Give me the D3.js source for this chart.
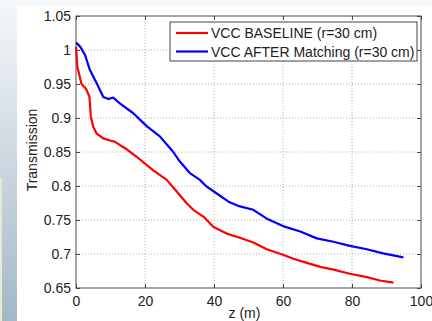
<!DOCTYPE html>
<html>
<head>
<meta charset="utf-8">
<script src="https://cdn.jsdelivr.net/npm/d3@7"></script>
<style>
  html, body { margin: 0; padding: 0; background: #fff; }
  svg { display: block; font-family: Arial, 'Liberation Sans', sans-serif; }
</style>
</head>
<body>
<div class="chart"></div>
<script>
// values
const zBaseline = [0, 0.4, 1.6, 2.9, 3.9, 4.3, 5, 6, 7.9, 9.9, 11.3, 12.8, 14.7, 17.6, 20, 22.4, 26.3, 29.2, 32, 34, 36.9, 39.8, 41.3, 43.7, 47.5, 51.4, 55.3, 60, 63, 66.9, 70.8, 74.6, 79.4, 84.3, 88.1, 92];
const tBaseline = [1.005, 0.975, 0.95, 0.943, 0.931, 0.902, 0.887, 0.877, 0.87, 0.867, 0.865, 0.86, 0.854, 0.843, 0.833, 0.823, 0.809, 0.792, 0.775, 0.765, 0.755, 0.74, 0.736, 0.73, 0.724, 0.717, 0.707, 0.699, 0.693, 0.687, 0.681, 0.677, 0.671, 0.666, 0.661, 0.658];
const zMatched = [0, 1.2, 2.6, 4, 6, 7.9, 9.4, 10.8, 12.8, 16.6, 20.5, 24.3, 28.2, 30.1, 33, 35.9, 37.9, 40.8, 44.2, 47.5, 51.4, 55.3, 60, 65, 69.8, 74.6, 79.4, 84.3, 89, 94.9];
const tMatched = [1.011, 1.005, 0.993, 0.971, 0.951, 0.931, 0.928, 0.93, 0.921, 0.907, 0.888, 0.873, 0.85, 0.836, 0.819, 0.809, 0.799, 0.789, 0.777, 0.77, 0.765, 0.752, 0.741, 0.733, 0.723, 0.718, 0.712, 0.707, 0.701, 0.695];
const xTicks = [0, 20, 40, 60, 80, 100];
const yTicks = [0.65, 0.7, 0.75, 0.8, 0.85, 0.9, 0.95, 1, 1.05];
const seriesNames = ['VCC BASELINE (r=30 cm)', 'VCC AFTER Matching (r=30 cm)'];
const seriesColors = ['#ff0000', '#0000ff'];

const svgWidth = 432;
const svgHeight = 321;
const margin = { top: 16, right: 11, bottom: 33, left: 76 };
const width = svgWidth - margin.left - margin.right;
const height = svgHeight - margin.top - margin.bottom;

const root = d3.select('.chart').append('svg')
  .attr('width', svgWidth)
  .attr('height', svgHeight);

// slide background: left gradient strip
const defs = root.append('defs');
const grad = defs.append('linearGradient').attr('id', 'strip').attr('x1', 0).attr('y1', 0).attr('x2', 0).attr('y2', 1);
grad.append('stop').attr('offset', '0%').attr('stop-color', '#f6f8fa');
grad.append('stop').attr('offset', '100%').attr('stop-color', '#a3b7c7');
root.append('rect').attr('x', 0).attr('y', 0).attr('width', svgWidth).attr('height', 6).attr('fill', '#f7f8f9');
root.append('rect').attr('x', 0).attr('y', 0).attr('width', 17).attr('height', svgHeight).attr('fill', 'url(#strip)');
root.append('rect').attr('x', 0).attr('y', 178).attr('width', 2).attr('height', svgHeight - 178).attr('fill', '#e6ead0');

const svg = root.append('g').attr('transform', 'translate(' + margin.left + ',' + margin.top + ')');

const x = d3.scaleLinear().domain([0, 100]).range([0, width]);
const y = d3.scaleLinear().domain([0.65, 1.05]).range([height, 0]);

// dotted grid
svg.append('g')
  .selectAll('line')
  .data(xTicks.slice(1, -1))
  .join('line')
  .attr('x1', (d) => x(d)).attr('x2', (d) => x(d))
  .attr('y1', 0).attr('y2', height)
  .attr('stroke', '#9a9a9a').attr('stroke-width', 0.8).attr('stroke-dasharray', '1,2');
svg.append('g')
  .selectAll('line')
  .data(yTicks.slice(1, -1))
  .join('line')
  .attr('x1', 0).attr('x2', width)
  .attr('y1', (d) => y(d)).attr('y2', (d) => y(d))
  .attr('stroke', '#9a9a9a').attr('stroke-width', 0.8).attr('stroke-dasharray', '1,2');

// axes, matlab style ticks pointing inward
const xAxis = (g) => g.attr('transform', `translate(0,${height})`)
  .call(d3.axisBottom(x).tickValues(xTicks).tickSize(-4).tickPadding(8).tickFormat(d3.format('d')));
const yAxis = (g) => g.call(d3.axisLeft(y).tickValues(yTicks).tickSize(-4).tickPadding(5).tickFormat((d) => String(+d.toFixed(2))));
const xTop = (g) => g.call(d3.axisTop(x).tickValues(xTicks).tickSize(-4).tickFormat(''));
const yRight = (g) => g.attr('transform', `translate(${width},0)`)
  .call(d3.axisRight(y).tickValues(yTicks).tickSize(-4).tickFormat(''));

[xAxis, yAxis, xTop, yRight].forEach((a) => {
  const g = svg.append('g').call(a);
  g.selectAll('path, line').attr('stroke', '#4a4a4a');
  g.selectAll('text').attr('fill', '#222').attr('font-size', 14).attr('font-family', 'Arial, Liberation Sans, sans-serif');
  g.select('.domain').remove();
});
svg.append('rect').attr('width', width).attr('height', height)
  .attr('fill', 'none').attr('stroke', '#4a4a4a').attr('stroke-width', 1);

// curves
const line = d3.line().x((d) => x(d[0])).y((d) => y(d[1]));
const series = [
  d3.zip(zBaseline, tBaseline),
  d3.zip(zMatched, tMatched)
];
svg.append('g')
  .selectAll('path')
  .data(series)
  .join('path')
  .attr('d', line)
  .attr('fill', 'none')
  .attr('stroke', (d, i) => seriesColors[i])
  .attr('stroke-width', 2.2)
  .attr('stroke-linejoin', 'round');

// legend
const legend = svg.append('g').attr('transform', `translate(${170 - margin.left},${22 - margin.top})`);
legend.append('rect').attr('width', 247).attr('height', 39)
  .attr('fill', '#fff').attr('stroke', '#444').attr('stroke-width', 1);
const item = legend.selectAll('g')
  .data(seriesNames)
  .join('g')
  .attr('transform', (d, i) => `translate(0,${11 + i * 18.5})`);
item.append('line')
  .attr('x1', 6).attr('x2', 38)
  .attr('stroke', (d, i) => seriesColors[i]).attr('stroke-width', 2.2);
item.append('text')
  .attr('x', 41).attr('dy', '0.36em')
  .attr('font-size', 14).attr('fill', '#222')
  .text((d) => d);

// axis labels
svg.append('text')
  .attr('transform', `translate(${width / 2 - 4},${height + 30})`)
  .attr('text-anchor', 'middle')
  .attr('font-size', 14).attr('fill', '#222')
  .text('z (m)');
svg.append('text')
  .attr('transform', 'rotate(-90)')
  .attr('x', -(150 - margin.top))
  .attr('y', -39)
  .attr('text-anchor', 'middle')
  .attr('font-size', 14).attr('fill', '#222')
  .text('Transmission');
</script>
</body>
</html>
